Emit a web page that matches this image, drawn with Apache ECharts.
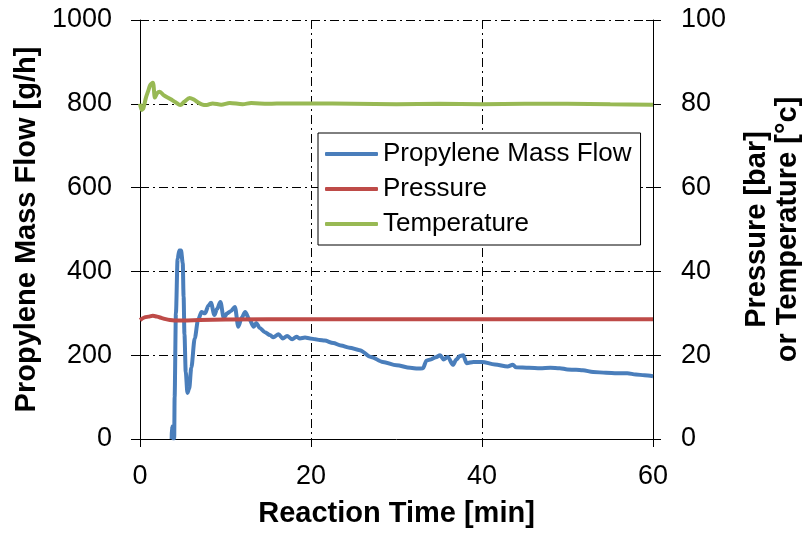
<!DOCTYPE html>
<html>
<head>
<meta charset="utf-8">
<script src="https://cdn.jsdelivr.net/npm/echarts@6/dist/echarts.min.js"></script>
<style>
	html, body { margin: 0; padding: 0; background: #fff; }
	#chart { width: 803px; height: 533px; }
</style>
</head>
<body>
<div id="chart"></div>
<script>
// x axis ticks
var timeTicks = [0, 20, 40, 60];

// propylene mass flow [g/h], left axis
var flowTime = [3.7, 3.72, 3.78, 3.85, 4.0, 4.05, 4.2, 4.4, 4.6, 4.8, 5.0, 5.1, 5.2, 5.35, 5.55, 5.75, 6.0, 6.4, 6.8, 7.2, 7.6, 8.0, 8.3, 8.7, 9.0, 9.4, 9.8, 10.2, 10.6, 11.1, 11.5, 11.9, 12.3, 12.8, 13.3, 13.6, 14.0, 14.6, 15.2, 15.6, 16.2, 16.7, 17.2, 17.8, 18.3, 18.7, 19.3, 19.9, 20.5, 21.0, 21.6, 22.6, 23.5, 24.5, 25.7, 27.0, 28.4, 30.0, 31.6, 32.5, 33.1, 33.5, 34.0, 34.6, 35.1, 35.5, 36.0, 36.6, 37.0, 37.4, 37.8, 38.2, 39.0, 40.0, 41.5, 43.0, 43.6, 44.0, 45.5, 46.8, 48.0, 49.1, 50.0, 51.0, 51.8, 53.0, 54.5, 55.8, 57.0, 58.0, 59.0, 60.0];
var flowValue = [0, 30, 25, 2, 2, 100, 300, 430, 450, 450, 420, 340, 250, 160, 110, 120, 170, 240, 285, 303, 300, 318, 325, 296, 310, 327, 289, 300, 305, 315, 268, 290, 303, 285, 268, 277, 265, 255, 248, 243, 250, 240, 246, 238, 244, 240, 242, 240, 238, 236, 235, 229, 223, 218, 212, 196, 184, 176, 170, 168, 169, 187, 190, 195, 200, 190, 196, 177, 190, 198, 200, 181, 184, 184, 178, 173, 177, 171, 170, 169, 170, 169, 166, 165, 164, 160, 158, 157, 157, 154, 152, 150];

// pressure [bar], right axis
var presTime = [0, 0.5, 1.0, 1.5, 2.0, 2.5, 3.0, 3.5, 4.0, 5.0, 7.0, 10, 20, 30, 40, 50, 60];
var presValue = [28.4, 29.0, 29.2, 29.4, 29.2, 28.9, 28.6, 28.4, 28.3, 28.3, 28.4, 28.5, 28.6, 28.6, 28.6, 28.6, 28.6];

// temperature [°c], right axis
var tempTime = [0, 0.2, 0.4, 0.7, 0.95, 1.2, 1.5, 1.75, 2.0, 2.3, 2.8, 3.5, 4.2, 4.7, 5.2, 5.8, 6.3, 6.8, 7.3, 7.8, 8.5, 9.5, 10.5, 12, 13, 15, 17, 20, 25, 30, 35, 40, 45, 50, 55, 60];
var tempValue = [80, 78.5, 79, 81.5, 83, 84.5, 85, 81.5, 82.5, 82.9, 82, 81.2, 80.3, 79.7, 80.5, 81.4, 81, 80.3, 79.8, 79.7, 80.1, 79.8, 80.2, 79.9, 80.2, 80, 80.1, 80.1, 80, 79.9, 80, 79.9, 80, 80, 79.9, 79.8];

function pairs(xs, ys) {
	var out = [];
	for (var i = 0; i < xs.length; i++) {
		out.push([xs[i], ys[i]]);
	}
	return out;
}

var font = 'Liberation Sans, Arial, sans-serif';
var dashDot = [9, 4, 2, 4];
var plain = function (v) { return String(v); };

var myChart = echarts.init(document.getElementById('chart'));
var option = {
	backgroundColor: '#ffffff',
	animation: false,
	grid: { left: 140, right: 150, top: 20, bottom: 94, containLabel: false, outerBoundsMode: 'none' },
	legend: {
		orient: 'vertical',
		left: 318,
		top: 133,
		padding: [8, 9, 8, 7],
		itemWidth: 53,
		itemHeight: 4,
		itemGap: 9,
		icon: 'roundRect',
		borderColor: '#000',
		borderWidth: 1,
		backgroundColor: '#fff',
		textStyle: { fontFamily: font, fontSize: 26, color: '#000' },
		data: ['Propylene Mass Flow', 'Pressure', 'Temperature']
	},
	xAxis: {
		type: 'value',
		min: 0,
		max: 60,
		interval: 20,
		name: 'Reaction Time [min]',
		nameLocation: 'middle',
		nameGap: 60,
		nameTextStyle: { fontFamily: font, fontSize: 29, fontWeight: 'bold', color: '#000' },
		axisLine: { lineStyle: { color: '#000', width: 1 } },
		axisTick: { show: true, inside: false, length: 8, lineStyle: { color: '#000' } },
		axisLabel: { fontFamily: font, fontSize: 27, color: '#000', margin: 24,
			formatter: function (v) { return timeTicks.indexOf(v) >= 0 ? String(v) : ''; } },
		splitLine: { show: true, lineStyle: { color: '#000', width: 1, type: dashDot } }
	},
	yAxis: [{
		type: 'value',
		position: 'left',
		min: 0,
		max: 1000,
		interval: 200,
		name: 'Propylene Mass Flow [g/h]',
		nameLocation: 'middle',
		nameRotate: 90,
		nameGap: 98,
		nameTextStyle: { fontFamily: font, fontSize: 29, fontWeight: 'bold', color: '#000' },
		axisLine: { show: true, lineStyle: { color: '#000', width: 1 } },
		axisTick: { show: true, inside: false, length: 9, lineStyle: { color: '#000' } },
		axisLabel: { fontFamily: font, fontSize: 27, color: '#000', margin: 28, formatter: plain },
		splitLine: { show: true, lineStyle: { color: '#000', width: 1, type: dashDot } }
	}, {
		type: 'value',
		position: 'right',
		min: 0,
		max: 100,
		interval: 20,
		name: 'Pressure [bar]\nor Temperature [°c]',
		nameLocation: 'middle',
		nameRotate: 90,
		nameGap: 88,
		nameTextStyle: { fontFamily: font, fontSize: 29, fontWeight: 'bold', color: '#000', lineHeight: 31, align: 'center' },
		axisLine: { show: true, lineStyle: { color: '#000', width: 1 } },
		axisTick: { show: true, inside: false, length: 8, lineStyle: { color: '#000' } },
		axisLabel: { fontFamily: font, fontSize: 27, color: '#000', margin: 28, formatter: plain },
		splitLine: { show: false }
	}, {
		// inner half of the right axis' crossing ticks
		type: 'value',
		position: 'right',
		min: 0,
		max: 100,
		interval: 20,
		axisLine: { show: false },
		axisTick: { show: true, inside: true, length: 7, lineStyle: { color: '#000' } },
		axisLabel: { show: false },
		splitLine: { show: false }
	}],
	series: [{
		name: 'Propylene Mass Flow',
		type: 'line',
		yAxisIndex: 0,
		showSymbol: false,
		smooth: 0.3,
		smoothMonotone: 'x',
		color: '#4A7EBB',
		lineStyle: { width: 4, color: '#4A7EBB' },
		data: pairs(flowTime, flowValue)
	}, {
		name: 'Pressure',
		type: 'line',
		yAxisIndex: 1,
		showSymbol: false,
		smooth: 0.3,
		color: '#BE4B48',
		lineStyle: { width: 4, color: '#BE4B48' },
		data: pairs(presTime, presValue)
	}, {
		name: 'Temperature',
		type: 'line',
		yAxisIndex: 1,
		showSymbol: false,
		smooth: 0.3,
		color: '#98B954',
		lineStyle: { width: 4, color: '#98B954' },
		data: pairs(tempTime, tempValue)
	}]
};
myChart.setOption(option);
</script>
</body>
</html>
